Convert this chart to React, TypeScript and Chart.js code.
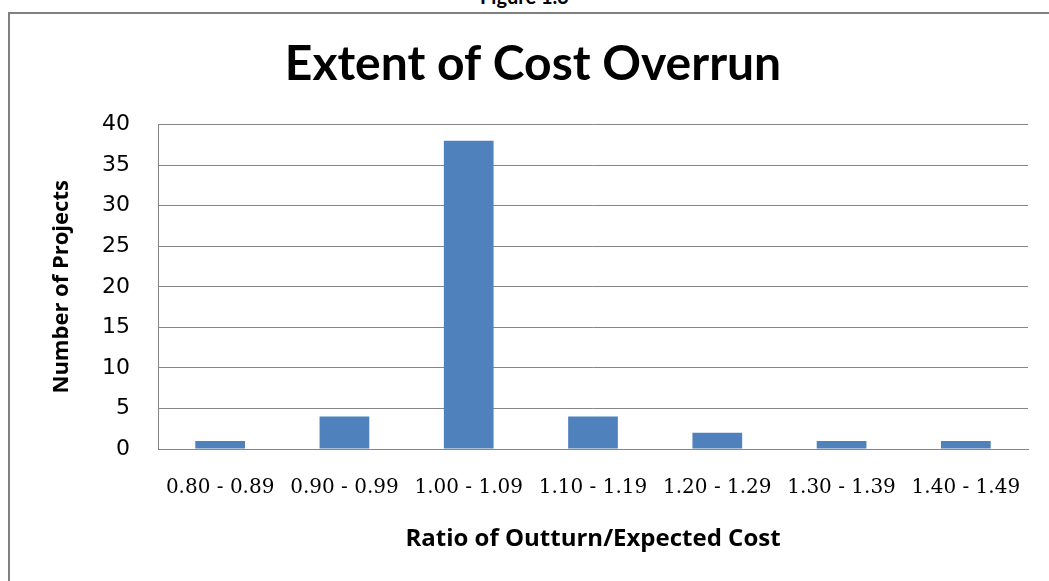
import React, { useEffect, useRef } from "react";
import { Chart, registerables } from "chart.js";

Chart.register(...registerables);

const categories = [
  "0.80 - 0.89",
  "0.90 - 0.99",
  "1.00 - 1.09",
  "1.10 - 1.19",
  "1.20 - 1.29",
  "1.30 - 1.39",
  "1.40 - 1.49",
];
const projectCounts = [1, 4, 38, 4, 2, 1, 1];
const yMin = 0;
const yMax = 40;
const yStep = 5;

const chartTitle = "Extent of Cost Overrun";
const xTitle = "Ratio of Outturn/Expected Cost";
const yTitle = "Number of Projects";
const figureLabel = "Figure 1.3";

export default function App() {
  const ref = useRef<HTMLCanvasElement | null>(null);

  useEffect(() => {
    if (!ref.current) return;
    const chart = new Chart(ref.current, {
      type: "bar",
      data: {
        labels: categories,
        datasets: [
          {
            data: projectCounts,
            backgroundColor: "#4F81BD",
            borderWidth: 0,
            categoryPercentage: 1,
            barPercentage: 0.4,
          },
        ],
      },
      options: {
        responsive: false,
        animation: false,
        devicePixelRatio: 1,
        layout: { padding: { left: 28, right: 21, top: 0, bottom: 0 } },
        plugins: {
          legend: { display: false },
          tooltip: { enabled: false },
          title: {
            display: true,
            text: chartTitle,
            color: "#000",
            font: { family: "Lato", size: 48, weight: "bold" },
            padding: { top: 22, bottom: 31 },
          },
        },
        scales: {
          x: {
            grid: { display: false, drawTicks: false },
            border: { display: true, color: "#868686", width: 1 },
            ticks: {
              color: "#000",
              padding: 27,
              maxRotation: 0,
              autoSkip: false,
              font: { family: "DejaVu Serif", size: 20 },
            },
            title: {
              display: true,
              text: xTitle,
              color: "#000",
              font: { family: "Open Sans", size: 24, weight: "bold" },
              padding: { top: 28, bottom: 27 },
            },
            afterFit: (s: any) => {
              s.height = 132;
            },
          },
          y: {
            min: yMin,
            max: yMax,
            ticks: {
              stepSize: yStep,
              color: "#000",
              padding: 28,
              font: { family: "DejaVu Sans", size: 22, weight: "normal" },
            },
            grid: { color: "#868686", lineWidth: 1, drawTicks: false },
            border: { display: true, color: "#868686", width: 1 },
            title: {
              display: true,
              text: yTitle,
              color: "#000",
              font: { family: "Open Sans", size: 22, weight: "bold" },
              padding: { top: 11, bottom: 0 },
            },
            afterFit: (s: any) => {
              s.width = 120;
            },
          },
        },
      },
    });
    return () => chart.destroy();
  }, []);

  return (
    <div
      style={{
        position: "fixed",
        left: 0,
        top: 0,
        width: 1049,
        height: 581,
        overflow: "hidden",
        background: "#fff",
      }}
    >
      <div
        style={{
          position: "absolute",
          left: 0,
          width: 1049,
          top: -14,
          textAlign: "center",
          fontFamily: "Lato",
          fontWeight: "bold",
          fontSize: 20,
          lineHeight: "20px",
          color: "#000",
        }}
      >
        {figureLabel}
      </div>
      <div
        style={{
          position: "absolute",
          left: 8,
          top: 12,
          width: 1100,
          height: 700,
          border: "2px solid #808080",
          boxSizing: "border-box",
        }}
      />
      <canvas
        ref={ref}
        width={1039}
        height={567}
        style={{ position: "absolute", left: 10, top: 14, width: 1039, height: 567 }}
      />
    </div>
  );
}
